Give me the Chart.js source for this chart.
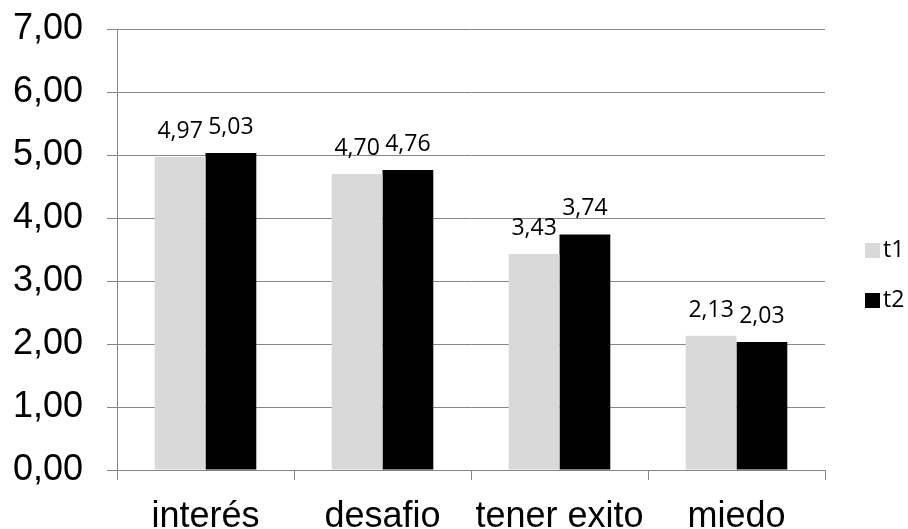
<!DOCTYPE html>
<html>
<head>
<meta charset="utf-8">
<script src="https://cdn.jsdelivr.net/npm/chart.js@4.4.0/dist/chart.umd.min.js"></script>
<style>
  html, body { margin: 0; padding: 0; background: #fff; }
  #wrap { width: 908px; height: 529px; }
</style>
</head>
<body>
<div id="wrap"><canvas id="chart"></canvas></div>
<script>
const categories = ['interés', 'desafio', 'tener exito', 'miedo']
const t1Values = [4.97, 4.70, 3.43, 2.13]
const t2Values = [5.03, 4.76, 3.74, 2.03]
const seriesNames = ['t1', 't2']

const fmt = v => v.toFixed(2).replace('.', ',')

// value labels above each bar
const barLabels = {
    id: 'barLabels',
    afterDatasetsDraw(chart) {
        const ctx = chart.ctx
        ctx.save()
        ctx.font = '23px "Open Sans", sans-serif'
        ctx.fillStyle = '#000'
        ctx.textAlign = 'center'
        ctx.textBaseline = 'alphabetic'
        chart.data.datasets.forEach((ds, i) => {
            chart.getDatasetMeta(i).data.forEach((bar, j) => {
                ctx.fillText(fmt(ds.data[j]), bar.x, bar.y - 19)
            })
        })
        ctx.restore()
    }
}

// legend at the right, like the spreadsheet one
const sideLegend = {
    id: 'sideLegend',
    afterDraw(chart) {
        const ctx = chart.ctx
        const area = chart.chartArea
        const x = area.right + 40
        const midY = (area.top + area.bottom) / 2 + 1
        ctx.save()
        ctx.font = '23px "Open Sans", sans-serif'
        ctx.textBaseline = 'middle'
        ctx.textAlign = 'left'
        chart.data.datasets.forEach((ds, i) => {
            const y = midY + i * 50
            ctx.fillStyle = ds.backgroundColor
            ctx.fillRect(x, y - 7.5, 15, 15)
            ctx.fillStyle = '#000'
            ctx.fillText(ds.label, x + 18, y)
        })
        ctx.restore()
    }
}

const gridColor = '#868686'
const axisFamily = '"Liberation Sans", Arial, sans-serif'

new Chart(document.getElementById('chart').getContext('2d'), {
    type: 'bar',
    data: {
        labels: categories,
        datasets: [{
            label: seriesNames[0],
            data: t1Values,
            backgroundColor: '#d9d9d9',
            borderWidth: 0
        }, {
            label: seriesNames[1],
            data: t2Values,
            backgroundColor: '#000000',
            borderWidth: 0
        }]
    },
    options: {
        responsive: true,
        maintainAspectRatio: false,
        animation: false,
        categoryPercentage: 0.574,
        barPercentage: 1.0,
        layout: { padding: { top: 7, left: 13, right: 83, bottom: 0 } },
        plugins: {
            legend: { display: false },
            tooltip: { enabled: false }
        },
        scales: {
            y: {
                min: 0,
                max: 7,
                afterFit: scale => { scale.width = 104 },
                ticks: {
                    stepSize: 1,
                    color: '#000',
                    padding: 7.4,
                    crossAlign: 'far',
                    font: { family: axisFamily, size: 36, lineHeight: 1.2 },
                    callback: v => fmt(v)
                },
                grid: { color: gridColor, tickLength: 10 },
                border: { color: gridColor }
            },
            x: {
                afterFit: scale => { scale.height = 59 },
                ticks: {
                    color: '#000',
                    padding: 19,
                    maxRotation: 0,
                    autoSkip: false,
                    font: { family: axisFamily, size: 36, lineHeight: 1 }
                },
                grid: { offset: true, drawOnChartArea: false, color: gridColor, tickLength: 10 },
                border: { color: gridColor }
            }
        }
    },
    plugins: [barLabels, sideLegend]
})
</script>
</body>
</html>
